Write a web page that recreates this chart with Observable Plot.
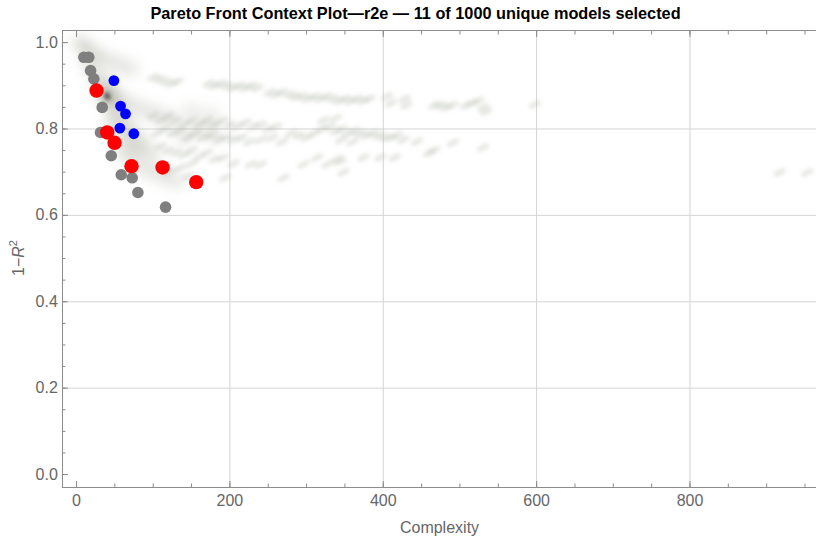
<!DOCTYPE html>
<html><head><meta charset="utf-8">
<script src="https://cdn.jsdelivr.net/npm/d3@7"></script>
<script src="https://cdn.jsdelivr.net/npm/@observablehq/plot@0.6"></script>
<style>
body{margin:0;background:#fff;}
#chart{width:816px;height:541px;overflow:hidden;}
</style></head><body><div id="chart"></div>
<script>
// ---- data ----
const titleText = "Pareto Front Context Plot\u2014r2e \u2014 11 of 1000 unique models selected";
const xMajor = [0, 200, 400, 600, 800];
const xMinor = [0,50,100,150,200,250,300,350,400,450,500,550,600,650,700,750,800,850,900,950];
const yMajor = [0, 0.2, 0.4, 0.6, 0.8, 1.0];
const yMinor = [0,0.05,0.1,0.15,0.2,0.25,0.3,0.35,0.4,0.45,0.5,0.55,0.6,0.65,0.7,0.75,0.8,0.85,0.9,0.95,1.0];

// Pareto front (non-selected) models
const grayX = [9.5, 16, 18.3, 22.6, 33.5, 31.3, 45.3, 58.3, 72.6, 80, 116.1];
const grayY = [0.966, 0.966, 0.935, 0.916, 0.850, 0.792, 0.738, 0.694, 0.687, 0.653, 0.619];
// selected models (red)
const redX = [26.1, 40, 49.6, 71.7, 112.2, 156.1];
const redY = [0.889, 0.792, 0.768, 0.714, 0.711, 0.677];
// selected models (blue)
const blueX = [48.7, 57.4, 63.9, 56.5, 74.7];
const blueY = [0.912, 0.853, 0.835, 0.802, 0.789];

// context cloud: broad haze near the front
const hazeX = [5,10,18,28,40,55,70, 15,25,35,45,55,65,80,95,110,125, 30,38,42,48,55,62,70,80,90,100, 45,50,60,70,80,60,70,85,100,115,130, 140,160,180,150,175, 40,40,40];
const hazeY = [1.0,0.99,0.98,0.97,0.96,0.95,0.94, 0.95,0.93,0.91,0.89,0.87,0.86,0.85,0.84,0.83,0.82, 0.90,0.88,0.875,0.86,0.84,0.82,0.80,0.78,0.76,0.74, 0.83,0.81,0.79,0.77,0.75,0.75,0.73,0.71,0.70,0.69,0.68, 0.78,0.80,0.79,0.84,0.83, 0.876,0.876,0.876];
// densest spot of the cloud
const coreX = [40, 41, 39];
const coreY = [0.876, 0.873, 0.879];
// context cloud: individual model streaks
const streakX = [
 100,108,116,124,132, 172,180,188,196,204,212,220,228,236,
 252,260,268,278,286,294,302,310,318,326,334,342,350,358,366,374,382,
 405,410,428,430, 466,474,482,490,508,516,524,530,534, 598,
 100,110,120,130,140,150,160,170,180,190,200,210,220,230,240,250,260,
 105,115,125,135,145,155,165,175,185,195,205,215,225,240,255,268,
 280,290,300,310, 320,330,338,346,354,362,370,378,386,394,402,410,418,426,322,338,345,360,
 444,460,466,491,530,
 110,120,130,140,150,160,170,180,191,194,205,227,240,270,296,314,327,344,348,340,374,396,415,
 120,135,150,145, 917,953];
const streakY = [
 0.92,0.915,0.91,0.905,0.91, 0.905,0.90,0.905,0.90,0.895,0.90,0.895,0.90,0.895,
 0.885,0.88,0.885,0.88,0.875,0.875,0.87,0.875,0.87,0.875,0.87,0.865,0.87,0.865,0.87,0.865,0.87,
 0.875,0.86,0.87,0.855, 0.855,0.855,0.85,0.855,0.855,0.86,0.865,0.85,0.84, 0.857,
 0.83,0.82,0.83,0.82,0.81,0.82,0.81,0.82,0.81,0.82,0.81,0.805,0.815,0.805,0.81,0.80,0.805,
 0.79,0.80,0.79,0.795,0.78,0.79,0.78,0.785,0.775,0.78,0.775,0.78,0.77,0.775,0.78,0.77,
 0.79,0.785,0.78,0.79, 0.80,0.805,0.795,0.80,0.79,0.795,0.79,0.785,0.79,0.785,0.78,0.78,0.785,0.775,0.82,0.825,0.775,0.77,
 0.771,0.745,0.75,0.768,0.757,
 0.76,0.75,0.745,0.74,0.75,0.735,0.745,0.73,0.733,0.687,0.72,0.718,0.718,0.687,0.718,0.734,0.718,0.725,0.70,0.73,0.734,0.734,0.734,
 0.70,0.71,0.72,0.69, 0.699,0.699];

const pts = (xs, ys) => xs.map((x, i) => ({x, y: ys[i]}));
const gray = pts(grayX, grayY), red = pts(redX, redY), blue = pts(blueX, blueY);
const haze = pts(hazeX, hazeY), streaks = pts(streakX, streakY), core = pts(coreX, coreY);

const axisColor = "#8c8c8c";
const labelColor = "#666";
const chart = Plot.plot({
  width: 816, height: 541,
  marginLeft: 62, marginRight: 0, marginTop: 30, marginBottom: 54,
  style: {fontFamily: "'Liberation Sans', Arial, sans-serif", fontSize: "16px", color: labelColor, background: "#fff", overflow: "visible"},
  x: {domain: [-18.3, 965]},
  y: {domain: [-0.03, 1.028]},
  marks: [
    Plot.gridX(xMajor.filter(v => v > 0), {stroke: "#d4d4d4", strokeOpacity: 1}),
    Plot.gridY(yMajor.filter(v => v > 0 && v < 1), {stroke: "#d4d4d4", strokeOpacity: 1}),
    Plot.dot(haze, {x: "x", y: "y", r: 9, fill: "#a2a598", fillOpacity: 0.22}),
    Plot.link(streaks, {x1: d => d.x - 4.5, x2: d => d.x + 4.5, y1: d => d.y - 0.004, y2: d => d.y + 0.004,
      stroke: "#b3b6a8", strokeOpacity: 0.35, strokeWidth: 5, strokeLinecap: "round"}),
    Plot.dot(core, {x: "x", y: "y", r: 2.5, fill: "#333", fillOpacity: 0.7}),
    Plot.frame({anchor: "left", stroke: axisColor}),
    Plot.frame({anchor: "bottom", stroke: axisColor}),
    Plot.frame({anchor: "top", stroke: axisColor}),
    Plot.axisX(xMinor, {anchor: "bottom", tickSize: -3.5, stroke: axisColor, tickFormat: () => "", label: null}),
    Plot.axisX(xMajor, {anchor: "bottom", tickSize: -6, tickPadding: 13, stroke: axisColor, fill: labelColor, label: null, tickFormat: d => String(d)}),
    Plot.axisX(xMinor, {anchor: "top", tickSize: -3.5, stroke: axisColor, tickFormat: () => "", label: null}),
    Plot.axisX(xMajor, {anchor: "top", tickSize: -6, stroke: axisColor, tickFormat: () => "", label: null}),
    Plot.axisY(yMinor, {anchor: "left", tickSize: -3.5, stroke: axisColor, tickFormat: () => "", label: null}),
    Plot.axisY(yMajor, {anchor: "left", tickSize: -6, tickPadding: 10.7, stroke: axisColor, fill: labelColor, label: null, tickFormat: d3.format(".1f")}),
    Plot.dot(gray, {x: "x", y: "y", r: 5.8, fill: "#7f7f7f"}),
    Plot.dot(red, {x: "x", y: "y", r: 7.2, fill: "#ff0000"}),
    Plot.dot(blue, {x: "x", y: "y", r: 5.4, fill: "#0000ff"}),
    Plot.text(["Complexity"], {frameAnchor: "bottom", dy: 40, lineAnchor: "middle", fill: labelColor, fontSize: 16}),
    Plot.text([titleText], {frameAnchor: "top", dx: -24, dy: -17, lineAnchor: "middle", fill: "#000", fontSize: 16.3, fontWeight: "bold"})
  ]
});
document.getElementById("chart").appendChild(chart);

const svgEl = chart.tagName.toLowerCase() === "svg" ? chart : chart.querySelector("svg");
const svg = d3.select(svgEl);
const defs = svg.insert("defs", ":first-child");
function blur(id, sd) {
  defs.append("filter").attr("id", id).attr("filterUnits", "userSpaceOnUse")
    .attr("x", 0).attr("y", 0).attr("width", 816).attr("height", 541)
    .append("feGaussianBlur").attr("stdDeviation", sd);
}
blur("blurHaze", 6);
blur("blurStreak", 2);
blur("blurCore", 2);
const dotGroups = svgEl.querySelectorAll('g[aria-label="dot"]');
if (dotGroups.length > 1) {
  dotGroups[0].setAttribute("filter", "url(#blurHaze)");
  dotGroups[1].setAttribute("filter", "url(#blurCore)");
}
const linkGroup = svgEl.querySelector('g[aria-label="link"]');
if (linkGroup) linkGroup.setAttribute("filter", "url(#blurStreak)");

// y-axis label 1−R² with italic R and superscript 2
const yl = svg.append("text")
  .attr("transform", "translate(20,258) rotate(-90)")
  .attr("text-anchor", "middle").attr("dominant-baseline", "middle")
  .attr("fill", labelColor).attr("font-size", 16)
  .attr("font-family", "'Liberation Sans', Arial, sans-serif");
yl.append("tspan").text("1\u2212");
yl.append("tspan").attr("font-style", "italic").text("R");
yl.append("tspan").attr("font-size", 11).attr("dy", -6).text("2");
</script>
</body></html>
